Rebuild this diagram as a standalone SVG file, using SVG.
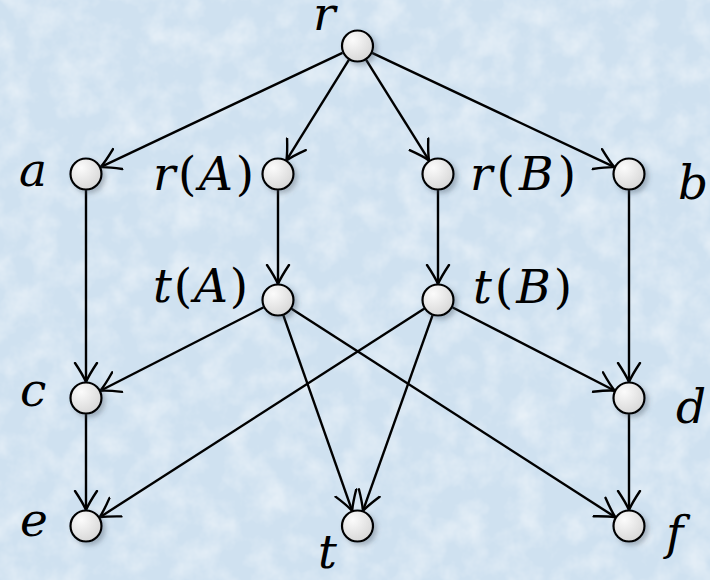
<svg xmlns="http://www.w3.org/2000/svg" width="710" height="580" viewBox="0 0 710 580">
<defs>
<style>
text{font-family:'DejaVu Serif',serif;font-size:47px;fill:#000}
.it{font-style:italic}
.up{font-style:normal}
.edge{stroke:#000;stroke-width:2.4;fill:none;marker-end:url(#arr)}
.node{fill:url(#ng);stroke:#000;stroke-width:2.2;filter:url(#sh)}
</style>
<radialGradient id="ng" cx="0.35" cy="0.3" r="0.8">
<stop offset="0" stop-color="#fbfbfb"/>
<stop offset="1" stop-color="#d4d4d4"/>
</radialGradient>
<filter id="sh" x="-50%" y="-50%" width="200%" height="200%">
<feDropShadow dx="3" dy="3" stdDeviation="2.5" flood-color="#3a4a5a" flood-opacity="0.35"/>
</filter>
<filter id="tex" x="0" y="0" width="100%" height="100%">
<feTurbulence type="fractalNoise" baseFrequency="0.035" numOctaves="4" seed="7"/>
<feColorMatrix type="matrix" values="0 0 0 0 1  0 0 0 0 1  0 0 0 0 1  0 0 0 0.9 -0.35"/>
</filter>
<marker id="arr" markerUnits="userSpaceOnUse" markerWidth="40" markerHeight="40" viewBox="-20 -20 40 40" refX="0" refY="0" orient="auto">
<path d="M-19,-11 Q-7,-3 0,0 Q-7,3 -19,11" fill="none" stroke="#000" stroke-width="2.4" stroke-linecap="round"/>
</marker>
</defs>
<rect x="0" y="0" width="710" height="580" fill="#cfe1f0"/>
<rect x="0" y="0" width="710" height="580" filter="url(#tex)"/>
<g id="connectors">
<line class="edge" x1="342.5" y1="52.8" x2="100.5" y2="167.2"/>
<line class="edge" x1="349" y1="59.6" x2="286.4" y2="160.4"/>
<line class="edge" x1="366" y1="59.6" x2="429" y2="160.4"/>
<line class="edge" x1="372" y1="52.8" x2="614.5" y2="167.2"/>
<line class="edge" x1="86" y1="190" x2="86" y2="382"/>
<line class="edge" x1="278" y1="190" x2="278" y2="284"/>
<line class="edge" x1="438" y1="190" x2="438" y2="284"/>
<line class="edge" x1="629" y1="190" x2="629" y2="382"/>
<line class="edge" x1="86" y1="414" x2="86" y2="510"/>
<line class="edge" x1="629" y1="414" x2="629" y2="510"/>
<line class="edge" x1="263.7" y1="307.3" x2="100.3" y2="390.7"/>
<line class="edge" x1="283.3" y1="315.1" x2="352.2" y2="510.9"/>
<line class="edge" x1="291.5" y1="308.7" x2="615.5" y2="517.3"/>
<line class="edge" x1="424.5" y1="308.6" x2="99.5" y2="517.4"/>
<line class="edge" x1="432.6" y1="315.1" x2="362.9" y2="510.9"/>
<line class="edge" x1="452.2" y1="307.3" x2="614.8" y2="390.7"/>
</g>
<g id="node-r"><circle class="node" cx="357.5" cy="46" r="15.5"/><text class="it" x="313" y="30">r</text></g>
<g id="node-a"><circle class="node" cx="86" cy="174" r="15.5"/><text class="it" x="19" y="186">a</text></g>
<g id="node-rA"><circle class="node" cx="278" cy="174" r="15.5"/><text x="153" y="190" textLength="101" lengthAdjust="spacing"><tspan class="it">r</tspan><tspan class="up">(</tspan><tspan class="it">A</tspan><tspan class="up">)</tspan></text></g>
<g id="node-rB"><circle class="node" cx="438" cy="174" r="15.5"/><text x="470" y="190" textLength="106" lengthAdjust="spacing"><tspan class="it">r</tspan><tspan class="up">(</tspan><tspan class="it">B</tspan><tspan class="up">)</tspan></text></g>
<g id="node-b"><circle class="node" cx="629" cy="174" r="15.5"/><text class="it" x="678" y="199">b</text></g>
<g id="node-tA"><circle class="node" cx="278" cy="300" r="15.5"/><text x="153" y="302" textLength="95" lengthAdjust="spacing"><tspan class="it">t</tspan><tspan class="up">(</tspan><tspan class="it">A</tspan><tspan class="up">)</tspan></text></g>
<g id="node-tB"><circle class="node" cx="438" cy="300" r="15.5"/><text x="473" y="303" textLength="99" lengthAdjust="spacing"><tspan class="it">t</tspan><tspan class="up">(</tspan><tspan class="it">B</tspan><tspan class="up">)</tspan></text></g>
<g id="node-c"><circle class="node" cx="86" cy="398" r="15.5"/><text class="it" x="20" y="406">c</text></g>
<g id="node-d"><circle class="node" cx="629" cy="398" r="15.5"/><text class="it" x="676" y="423">d</text></g>
<g id="node-e"><circle class="node" cx="86" cy="526" r="15.5"/><text class="it" x="20" y="536">e</text></g>
<g id="node-t"><circle class="node" cx="357.5" cy="526" r="15.5"/><text class="it" x="318" y="568">t</text></g>
<g id="node-f"><circle class="node" cx="629" cy="526" r="15.5"/><text class="it" x="666" y="549">f</text></g>
</svg>
